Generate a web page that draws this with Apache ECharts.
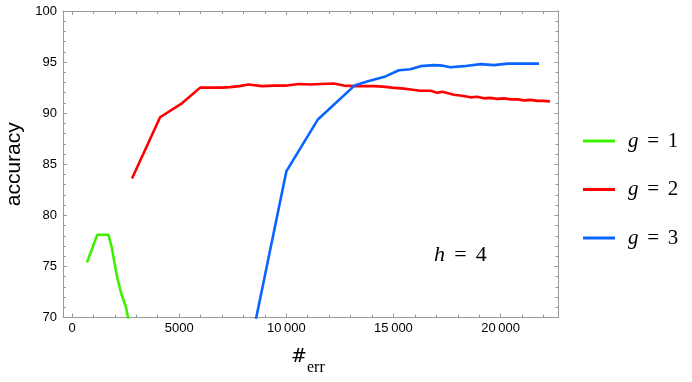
<!DOCTYPE html>
<html>
<head>
<meta charset="utf-8">
<script src="https://cdn.jsdelivr.net/npm/echarts@6/dist/echarts.min.js"></script>
<style>
    html, body { margin: 0; padding: 0; background: #fff; }
    #main { width: 692px; height: 382px; }
</style>
</head>
<body>
<div id="main"></div>
<script>
    // g = 1
    var greenX = [700, 1180, 1700, 1850, 2090, 2290, 2520, 2750];
    var greenY = [75.4, 78.1, 78.1, 76.9, 74.1, 72.4, 71.0, 68.5];
    // g = 2
    var redX = [2800, 4110, 5090, 5980, 6500, 7000, 7380, 7800, 8240, 8860, 9400, 10030, 10580, 11100, 11600, 12210, 12680, 13200, 13600, 14080, 14500, 14940, 15480, 15900, 16260, 16730, 17040, 17280, 17820, 18200, 18600, 18900, 19220, 19500, 19850, 20150, 20470, 20800, 21090, 21400, 21720, 22000, 22300];
    var redY = [83.6, 89.6, 90.9, 92.5, 92.5, 92.5, 92.55, 92.65, 92.8, 92.65, 92.7, 92.7, 92.85, 92.8, 92.85, 92.9, 92.7, 92.65, 92.65, 92.65, 92.6, 92.5, 92.4, 92.3, 92.2, 92.2, 92.0, 92.1, 91.8, 91.7, 91.55, 91.6, 91.45, 91.5, 91.4, 91.45, 91.35, 91.35, 91.25, 91.3, 91.2, 91.2, 91.15];
    // g = 3
    var blueX = [8000, 10000, 11460, 13180, 13770, 14630, 15250, 15790, 16260, 16880, 17300, 17660, 18280, 19070, 19690, 20310, 21090, 21790];
    var blueY = [63.9, 84.3, 89.35, 92.7, 93.1, 93.6, 94.2, 94.3, 94.6, 94.7, 94.65, 94.5, 94.6, 94.8, 94.7, 94.85, 94.85, 94.85];

    var seriesNames = ['g = 1', 'g = 2', 'g = 3'];
    var seriesColors = ['#3cf000', '#ff0000', '#0a64ff'];

    // 刻度
    var xMajor = [0, 5000, 10000, 15000, 20000];
    var xMinor = [1000, 2000, 3000, 4000, 6000, 7000, 8000, 9000, 11000, 12000, 13000, 14000, 16000, 17000, 18000, 19000, 21000, 22000];
    var xMin = -420, xMax = 22700;

    // 等号两边的空白
    var EQ = '\u2004\u200a=\u2004\u200a';

    function pairs(xs, ys) {
        var out = [];
        for (var i = 0; i < xs.length; i++) {
            out.push([xs[i], ys[i]]);
        }
        return out;
    }

    var frameColor = '#999999';

    function xAxisOf(pos, ticks, len, showLine, showLabel) {
        return {
            type: 'value',
            position: pos,
            min: xMin,
            max: xMax,
            splitLine: { show: false },
            axisLine: { show: showLine, onZero: false, lineStyle: { color: frameColor, width: 1 } },
            axisTick: { show: true, inside: true, length: len, customValues: ticks, lineStyle: { color: frameColor } },
            axisLabel: {
                show: showLabel,
                customValues: ticks,
                margin: 4,
                color: '#000',
                fontSize: 13,
                fontFamily: 'Liberation Sans',
                formatter: function (v) {
                    // 万位用细空格分开
                    if (v >= 10000) {
                        var s = String(v);
                        return s.slice(0, s.length - 3) + '\u2009' + s.slice(s.length - 3);
                    }
                    return String(v);
                }
            }
        };
    }

    function yAxisOf(pos, showLabel) {
        return {
            type: 'value',
            position: pos,
            min: 70,
            max: 100,
            interval: 5,
            name: showLabel ? 'accuracy' : '',
            nameLocation: 'middle',
            nameGap: 38,
            nameTextStyle: { color: '#000', fontSize: 21, fontFamily: 'Liberation Sans' },
            splitLine: { show: false },
            axisLine: { show: true, onZero: false, lineStyle: { color: frameColor, width: 1 } },
            axisTick: { show: true, inside: true, length: 4, lineStyle: { color: frameColor } },
            minorTick: { show: true, splitNumber: 5, length: 3, lineStyle: { color: frameColor } },
            axisLabel: {
                show: showLabel,
                margin: 6,
                color: '#000',
                fontSize: 13,
                fontFamily: 'Liberation Sans'
            }
        };
    }

    var dataList = [pairs(greenX, greenY), pairs(redX, redY), pairs(blueX, blueY)];
    var series = [];
    for (var i = 0; i < dataList.length; i++) {
        series.push({
            name: seriesNames[i],
            type: 'line',
            xAxisIndex: 0,
            yAxisIndex: 0,
            data: dataList[i],
            showSymbol: false,
            symbol: 'none',
            clip: true,
            color: seriesColors[i],
            lineStyle: { color: seriesColors[i], width: 2.6 }
        });
    }

    var myChart = echarts.init(document.getElementById('main'));

    var option = {
        animation: false,
        backgroundColor: '#fff',
        grid: { left: 63, right: 133.5, top: 11, bottom: 64.5, containLabel: false, outerBoundsMode: 'none' },
        xAxis: [
            xAxisOf('bottom', xMajor, 4, true, true),
            xAxisOf('bottom', xMinor, 3, false, false),
            xAxisOf('top', xMajor, 4, true, false),
            xAxisOf('top', xMinor, 3, false, false)
        ],
        yAxis: [
            yAxisOf('left', true),
            yAxisOf('right', false)
        ],
        legend: {
            orient: 'vertical',
            left: 583,
            top: 129,
            padding: 0,
            itemGap: 24.5,
            itemWidth: 32,
            itemHeight: 3,
            icon: 'rect',
            data: seriesNames,
            formatter: function (name) {
                return '{i|g}' + EQ + name.slice(4);
            },
            textStyle: {
                color: '#000',
                fontSize: 21,
                lineHeight: 24,
                fontFamily: 'Liberation Serif',
                padding: [0, 0, 0, 8],
                rich: {
                    i: { fontStyle: 'italic', fontSize: 21, fontFamily: 'Liberation Serif', color: '#000' }
                }
            }
        },
        graphic: [
            {
                type: 'text',
                left: 434,
                top: 244,
                style: {
                    text: '{i|h}' + EQ + '4',
                    fontSize: 22,
                    fontFamily: 'Liberation Serif',
                    fill: '#000',
                    rich: { i: { fontStyle: 'italic', fontSize: 22, fontFamily: 'Liberation Serif' } }
                }
            },
            {
                // 横轴名称 #err
                type: 'text',
                left: 291,
                top: 348,
                style: { text: '#', fontSize: 19, fontFamily: 'DejaVu Serif', fill: '#000' }
            },
            {
                type: 'text',
                left: 307,
                top: 360,
                style: { text: 'err', fontSize: 16, fontFamily: 'Liberation Serif', fill: '#000' }
            }
        ],
        series: series
    };

    myChart.setOption(option);
</script>
</body>
</html>
